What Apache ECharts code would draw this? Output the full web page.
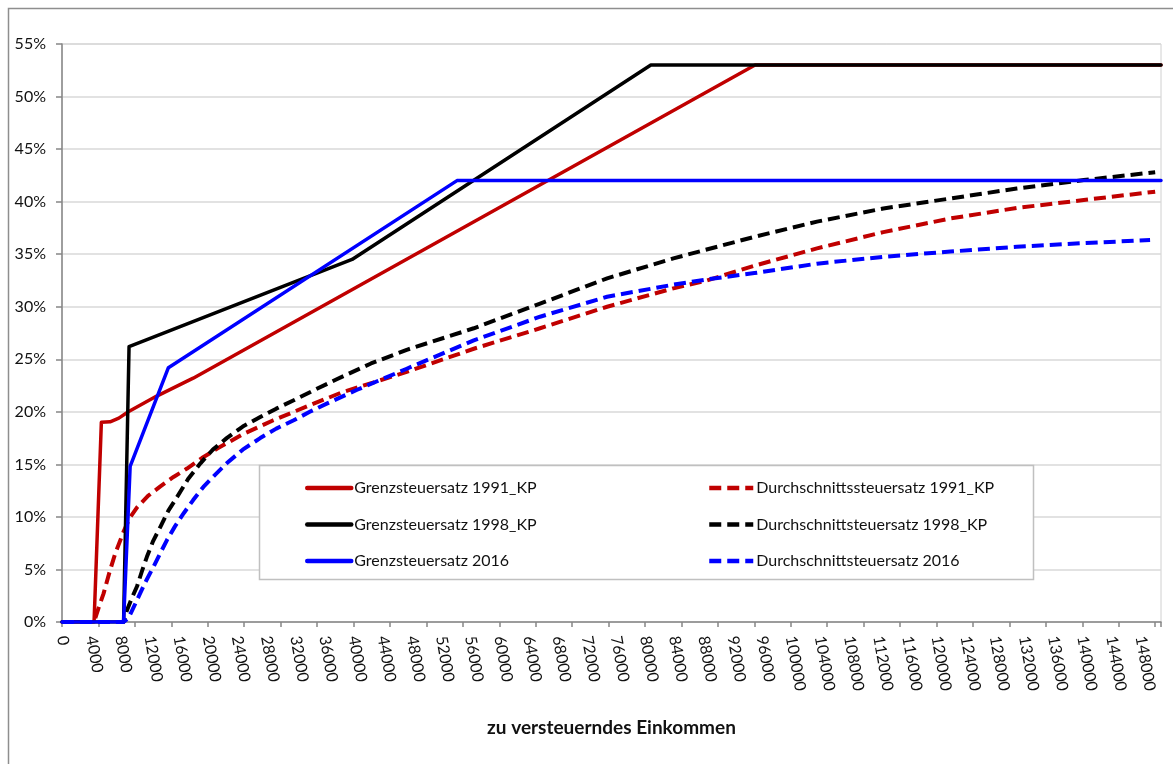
<!DOCTYPE html>
<html><head><meta charset="utf-8">
<script src="https://cdn.jsdelivr.net/npm/echarts@6/dist/echarts.min.js"></script>
<style>html,body{margin:0;padding:0;background:#fff}#c{width:1173px;height:764px}</style>
</head><body><div id="c"></div>
<script>
// Axis settings (income in EUR, rates in %)
const xMax = 150800;
const xLabelStep = 4000;   // tick labels 0, 4000, ... 148000
const xTickStep = 5000;    // tick marks
const yMax = 55;
const yStep = 5;           // 0% ... 55%
const xTitle = 'zu versteuerndes Einkommen';

const names = [
  'Grenzsteuersatz 1991_KP', 'Durchschnittssteuersatz 1991_KP',
  'Grenzsteuersatz 1998_KP', 'Durchschnittsteuersatz 1998_KP',
  'Grenzsteuersatz 2016', 'Durchschnittsteuersatz 2016'
];

// [income, rate %]
const grenz1991 = [[0,0],[4400,0],[5400,19.0],[6600,19.05],[7800,19.4],[9100,20.0],[13000,21.5],[18000,23.2],[95100,53],[150800,53]];
const grenz1998 = [[0,0],[8450,0],[9200,26.2],[39800,34.5],[80800,53],[150800,53]];
const grenz2016 = [[0,0],[8450,0],[9350,14.8],[14600,24.2],[54200,42],[150800,42]];

const durch1991 = [[0,0],[4400,0],[5000,1.3],[5700,2.7],[6500,4.7],[7300,6.5],[8450,8.6],[9300,9.9],[10300,10.9],[11800,12.0],[13500,12.9],[15300,13.8],[17150,14.6],[19200,15.6],[21300,16.5],[24900,17.9],[29000,19.2],[34100,20.65],[38400,21.85],[47300,23.8],[56500,26.0],[65600,27.95],[74800,30.0],[83900,31.75],[88500,32.5],[95000,33.9],[103600,35.55],[112700,37.1],[121900,38.4],[131000,39.4],[140200,40.15],[150000,40.95]];
const durch1998 = [[0,0],[8450,0],[8900,1.1],[9600,2.3],[10300,3.4],[11000,4.9],[11650,6.2],[12500,7.7],[13500,9.05],[14600,10.6],[15800,11.9],[17300,13.6],[19000,15.1],[20700,16.4],[22600,17.5],[24800,18.6],[27200,19.5],[29400,20.3],[31800,21.1],[34700,22.1],[37700,23.1],[42400,24.6],[47300,25.9],[56500,27.95],[65600,30.3],[74800,32.7],[83900,34.6],[95000,36.65],[103600,38.1],[112700,39.35],[121900,40.3],[131000,41.25],[140200,42.05],[150000,42.8]];
const durch2016 = [[0,0],[8450,0],[9100,0.35],[9900,1.5],[10700,2.7],[11600,4.0],[12550,5.25],[13450,6.5],[14400,7.8],[15500,9.1],[16700,10.35],[18000,11.6],[19400,12.85],[21000,14.0],[22600,15.1],[24800,16.4],[27200,17.5],[29400,18.4],[31800,19.2],[34000,20.0],[36400,20.8],[40500,22.1],[47300,24.1],[56500,26.8],[65600,29.05],[74800,30.95],[83900,32.1],[88500,32.6],[95000,33.2],[103600,34.1],[112700,34.75],[121900,35.25],[131000,35.7],[140200,36.05],[149300,36.35]];

const RED = '#C00000', BLACK = '#000000', BLUE = '#0000FF';
const FONT = 'Lato, "Liberation Sans", sans-serif';

function solid(name, data, color) {
  return { name, type: 'line', data, showSymbol: false, symbol: 'none',
    lineStyle: { color, width: 3.5, cap: 'round', join: 'round' }, itemStyle: { color }, animation: false };
}
function dashed(name, data, color) {
  return { name, type: 'line', data, showSymbol: false, symbol: 'none',
    lineStyle: { color, width: 4, type: [12, 6], cap: 'butt', join: 'round' }, itemStyle: { color }, animation: false };
}

const legendCommon = {
  orient: 'vertical', top: 480, itemWidth: 44, itemHeight: 14, itemGap: 20.5, padding: 0,
  itemStyle: { opacity: 0 },
  lineStyle: { width: 4.5 },
  textStyle: { fontSize: 16, color: '#111', fontFamily: FONT, padding: [0, 0, 0, -2] }
};

const chart = echarts.init(document.getElementById('c'), null, { renderer: 'canvas' });
chart.setOption({
  backgroundColor: '#fff',
  animation: false,
  textStyle: { fontFamily: FONT },
  grid: { left: 62, right: 12, top: 44, bottom: 142, show: true, borderColor: '#D0D0D0', borderWidth: 1, backgroundColor: 'transparent' },
  xAxis: [
    { type: 'value', min: 0, max: xMax, interval: xLabelStep,
      axisLine: { show: true, lineStyle: { color: '#868686', width: 1.5 } },
      axisTick: { show: false },
      splitLine: { show: false },
      axisLabel: { rotate: -80, margin: 14, fontSize: 16, color: '#111', fontFamily: FONT,
        padding: [0, 0, 9, 0], formatter: v => String(v), showMaxLabel: false },
      name: xTitle, nameLocation: 'middle', nameGap: 96,
      nameTextStyle: { fontSize: 19, fontWeight: 'bold', color: '#111', fontFamily: FONT } },
    { type: 'value', min: 0, max: xMax, interval: xTickStep, position: 'bottom',
      axisLine: { show: false }, axisLabel: { show: false }, splitLine: { show: false },
      axisTick: { show: true, length: 5, lineStyle: { color: '#868686', width: 1.5 } } }
  ],
  yAxis: { type: 'value', min: 0, max: yMax, interval: yStep,
    axisLine: { show: true, lineStyle: { color: '#868686', width: 1.5 } },
    axisTick: { show: true, length: 6, lineStyle: { color: '#868686', width: 1.5 } },
    splitLine: { show: true, lineStyle: { color: '#D9D9D9', width: 1.5 } },
    axisLabel: { margin: 16, fontSize: 16, color: '#111', fontFamily: FONT, formatter: v => v + '%' } },
  legend: [
    Object.assign({}, legendCommon, { data: [names[0], names[2], names[4]], left: 305 }),
    Object.assign({}, legendCommon, { data: [names[1], names[3], names[5]], left: 707 })
  ],
  graphic: [
    { type: 'rect', z: 1, shape: { x: 259.5, y: 465.5, width: 774, height: 114 },
      style: { fill: '#fff', stroke: '#C0C0C0', lineWidth: 1.5 } },
    { type: 'rect', z: 1, shape: { x: 8.5, y: 8.5, width: 1300, height: 900 },
      style: { fill: 'none', stroke: '#8E8E8E', lineWidth: 1.5 } }
  ],
  series: [
    solid(names[0], grenz1991, RED),
    dashed(names[1], durch1991, RED),
    solid(names[2], grenz1998, BLACK),
    dashed(names[3], durch1998, BLACK),
    solid(names[4], grenz2016, BLUE),
    dashed(names[5], durch2016, BLUE)
  ]
});
</script></body></html>
